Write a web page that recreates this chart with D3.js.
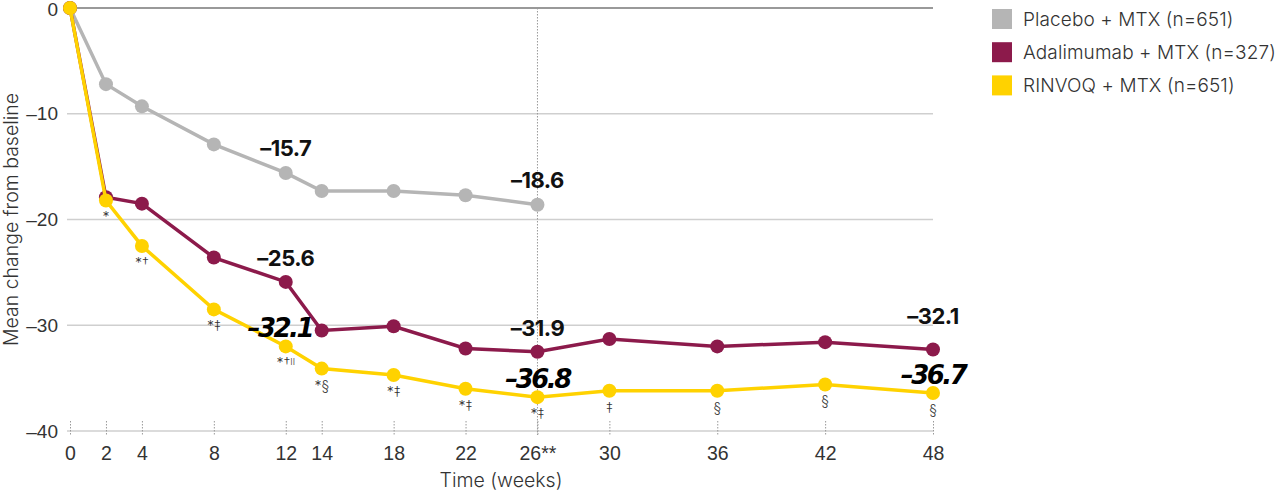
<!DOCTYPE html>
<html>
<head>
<meta charset="utf-8">
<script src="https://cdn.jsdelivr.net/npm/d3@7"></script>
<style>
  body { margin: 0; background: #fff; }
  svg { display: block; font-family: Inter, Roboto, sans-serif; }
</style>
</head>
<body>
<div id="chart"></div>
<script>
// values
var weeks = [0, 2, 4, 8, 12, 14, 18, 22, 26, 30, 36, 42, 48];
var tickLabels = ["0", "2", "4", "8", "12", "14", "18", "22", "26**", "30", "36", "42", "48"];
var placebo = [0, -7.2, -9.3, -12.9, -15.6, -17.3, -17.3, -17.7, -18.6];
var adalimumab = [0, -17.9, -18.5, -23.6, -25.9, -30.5, -30.1, -32.2, -32.5, -31.3, -32.0, -31.6, -32.3];
var rinvoq = [0, -18.2, -22.5, -28.5, -32.0, -34.1, -34.7, -36.0, -36.8, -36.2, -36.2, -35.6, -36.4];
var rinvoqMarks = ["", "*", "*†", "*‡", "*†‖", "*§", "*‡", "*‡", "*‡", "‡", "§", "§", "§"];
var yTicks = [0, -10, -20, -30, -40];

var seriesNames = ["Placebo + MTX (n=651)", "Adalimumab + MTX (n=327)", "RINVOQ + MTX (n=651)"];
var seriesColors = ["#b5b5b5", "#8c1a4b", "#ffd200"];

var placeboLabels = [{ week: 12, text: "–15.7" }, { week: 26, text: "–18.6" }];
var adalimumabLabels = [{ week: 12, text: "–25.6" }, { week: 26, text: "–31.9" }, { week: 48, text: "–32.1" }];
var rinvoqLabels = [{ week: 12, text: "–32.1" }, { week: 26, text: "–36.8" }, { week: 48, text: "–36.7" }];

var width = 1280, height = 491;
var margin = { top: 8, left: 70, right: 347, bottom: 60 };

var svg = d3.select("#chart").append("svg")
  .attr("width", width)
  .attr("height", height);

var x = d3.scaleLinear().domain([0, 48]).range([margin.left, width - margin.right]);
var y = d3.scaleLinear().domain([0, -40]).range([margin.top, height - margin.bottom]);

// gridlines
svg.append("g").selectAll("line")
  .data(yTicks)
  .enter().append("line")
  .attr("x1", x(0) - 3)
  .attr("x2", x(48))
  .attr("y1", function (d) { return y(d); })
  .attr("y2", function (d) { return y(d); })
  .attr("stroke", function (d) { return d === 0 ? "#999" : "#cfcfcf"; })
  .attr("stroke-width", function (d) { return d === 0 ? 2 : 1.3; });

// y axis labels
var yAxis = svg.append("g")
  .attr("transform", "translate(" + (x(0) - 3) + ",0)")
  .call(d3.axisLeft(y).tickValues(yTicks).tickSize(0).tickPadding(9)
    .tickFormat(function (d) { return d === 0 ? "0" : "–" + Math.abs(d); }));
yAxis.select(".domain").remove();
yAxis.selectAll("text")
  .attr("font-size", 19)
  .attr("font-weight", 300)
  .attr("fill", "#333");
// keep the top "0" inside the picture
yAxis.selectAll(".tick").filter(function (d) { return d === 0; }).select("text").attr("dy", "0.42em");

// x axis: dotted ticks + labels
var xAxis = svg.append("g")
  .attr("transform", "translate(0," + y(-40) + ")")
  .call(d3.axisBottom(x).tickValues(weeks).tickSize(0).tickPadding(15)
    .tickFormat(function (d, i) { return tickLabels[i]; }));
xAxis.select(".domain").remove();
xAxis.selectAll("text")
  .attr("font-size", 19.5)
  .attr("font-weight", 300)
  .attr("fill", "#333");
xAxis.selectAll(".tick").append("line")
  .attr("y1", -10)
  .attr("y2", 4)
  .attr("stroke", "#999")
  .attr("stroke-width", 1)
  .attr("stroke-dasharray", "1.5,1.5");

// dotted line at week 26
svg.append("line")
  .attr("x1", x(26)).attr("x2", x(26))
  .attr("y1", y(0)).attr("y2", y(-40) + 4)
  .attr("stroke", "#999")
  .attr("stroke-width", 1)
  .attr("stroke-dasharray", "1.5,1.5");

// axis titles
svg.append("text")
  .attr("x", 501)
  .attr("y", 487)
  .attr("text-anchor", "middle")
  .attr("font-size", 19.5)
  .attr("font-weight", 300)
  .attr("fill", "#333")
  .text("Time (weeks)");

svg.append("text")
  .attr("transform", "translate(18," + ((y(0) + y(-40)) / 2) + ") rotate(-90)")
  .attr("text-anchor", "middle")
  .attr("font-size", 19.5)
  .attr("font-weight", 300)
  .attr("fill", "#333")
  .text("Mean change from baseline");

// lines and points
var allSeries = [placebo, adalimumab, rinvoq];
var line = d3.line()
  .x(function (d, i) { return x(weeks[i]); })
  .y(function (d) { return y(d); });

allSeries.forEach(function (values, s) {
  var g = svg.append("g");
  g.append("path")
    .datum(values)
    .attr("d", line)
    .attr("fill", "none")
    .attr("stroke", seriesColors[s])
    .attr("stroke-width", 3.5);
  g.selectAll("circle")
    .data(values)
    .enter().append("circle")
    .attr("cx", function (d, i) { return x(weeks[i]); })
    .attr("cy", function (d) { return y(d); })
    .attr("r", 7)
    .attr("fill", seriesColors[s]);
});

// footnote marks under RINVOQ points
var marks = svg.append("g").selectAll("text")
  .data(rinvoq)
  .enter().append("text")
  .attr("x", function (d, i) { return x(weeks[i]); })
  .attr("y", function (d) { return y(d) + 22; })
  .attr("text-anchor", "middle")
  .attr("font-size", 14)
  .attr("font-weight", 300)
  .attr("fill", "#333");
marks.each(function (d, i) {
  var t = d3.select(this);
  var parts = rinvoqMarks[i].split("‖");
  t.append("tspan").text(parts[0]);
  if (parts.length > 1) {
    t.append("tspan").attr("font-size", 9).attr("dy", -3).text("II");
  }
});

// value callouts
function valueAt(series, week) { return series[weeks.indexOf(week)]; }

svg.append("g").selectAll("text")
  .data(placeboLabels)
  .enter().append("text")
  .attr("x", function (d) { return x(d.week); })
  .attr("y", function (d) { return y(valueAt(placebo, d.week)) - 17; })
  .attr("text-anchor", "middle")
  .attr("font-size", 22)
  .attr("font-weight", 700)
  .attr("letter-spacing", -0.5)
  .attr("fill", "#111")
  .text(function (d) { return d.text; });

svg.append("g").selectAll("text")
  .data(adalimumabLabels)
  .enter().append("text")
  .attr("x", function (d) { return x(d.week); })
  .attr("y", function (d) { return y(valueAt(adalimumab, d.week)) - (d.week === 48 ? 26 : 16); })
  .attr("text-anchor", "middle")
  .attr("font-size", 22)
  .attr("font-weight", 700)
  .attr("letter-spacing", -0.5)
  .attr("fill", "#111")
  .text(function (d) { return d.text; });

svg.append("g").selectAll("text")
  .data(rinvoqLabels)
  .enter().append("text")
  .attr("x", function (d) { return x(d.week) - (d.week === 12 ? 6 : 0); })
  .attr("y", function (d) { return y(valueAt(rinvoq, d.week)) - 9; })
  .attr("text-anchor", "middle")
  .attr("font-family", "'DejaVu Sans', sans-serif")
  .attr("font-style", "italic")
  .attr("font-size", 26)
  .attr("font-weight", 700)
  .attr("letter-spacing", -2.5)
  .attr("fill", "#000")
  .text(function (d) { return d.text; });

// legend
var legend = svg.append("g").attr("transform", "translate(992,9)");
var item = legend.selectAll("g")
  .data(seriesNames)
  .enter().append("g")
  .attr("transform", function (d, i) { return "translate(0," + (i * 33.2) + ")"; });
item.append("rect")
  .attr("width", 20)
  .attr("height", 20)
  .attr("fill", function (d, i) { return seriesColors[i]; });
item.append("text")
  .attr("x", 31)
  .attr("y", 17)
  .attr("font-size", 19)
  .attr("font-weight", 300)
  .attr("letter-spacing", 0.1)
  .attr("fill", "#333")
  .text(function (d) { return d; });
</script>
</body>
</html>
